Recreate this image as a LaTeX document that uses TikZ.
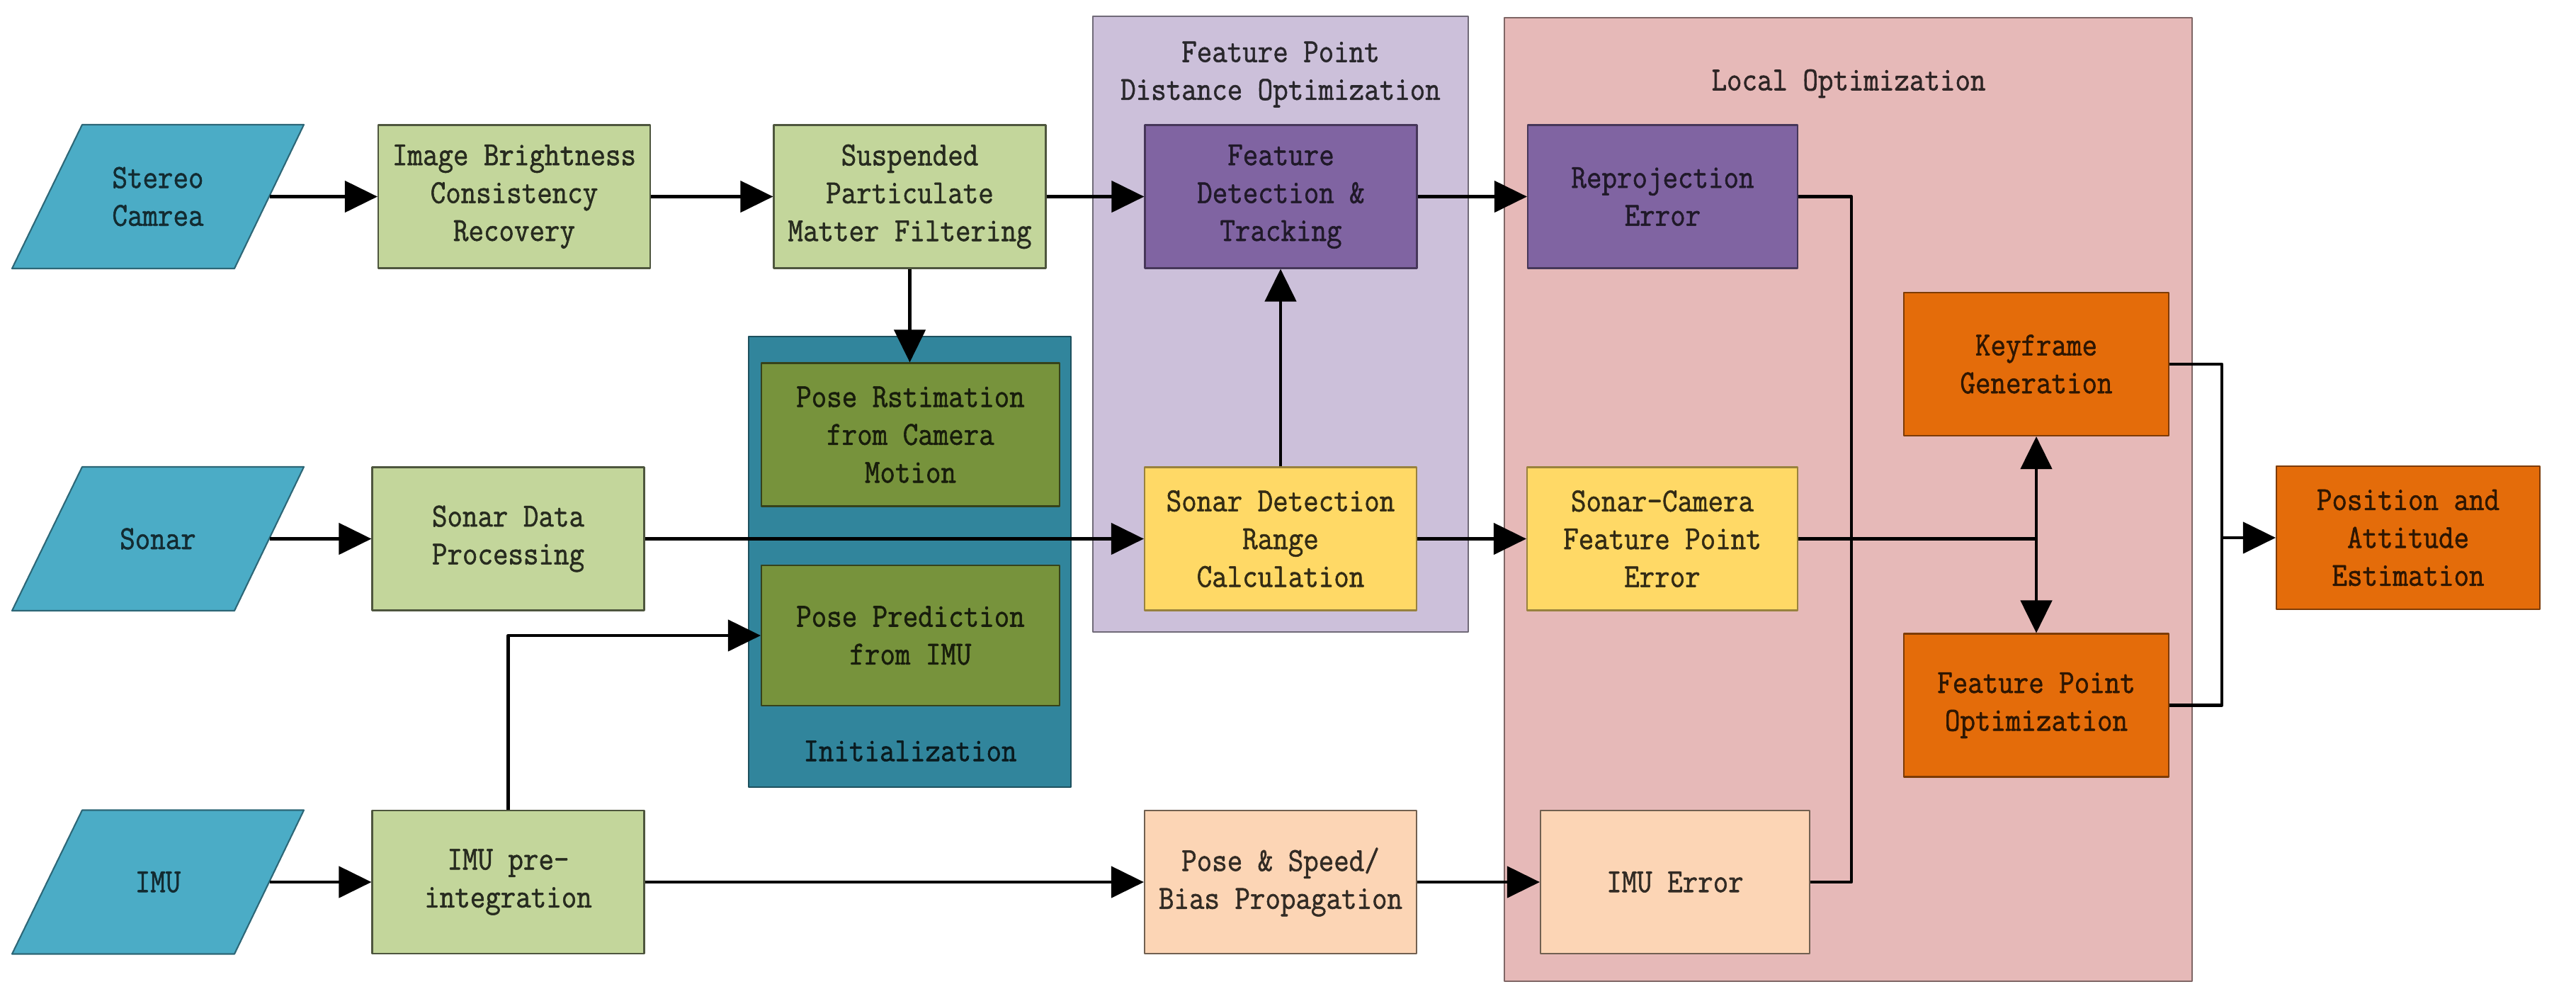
\documentclass[tikz,border=0pt]{standalone}
\usepackage{fontspec}
\setmonofont[FakeStretch=0.88, FakeBold=1.2]{Latin Modern Mono}
\usetikzlibrary{arrows.meta}
\definecolor{inblue}{HTML}{4BACC6}
\definecolor{prelight}{HTML}{C3D69B}
\definecolor{initteal}{HTML}{31859C}
\definecolor{initolive}{HTML}{77933C}
\definecolor{fplav}{HTML}{CCC0DA}
\definecolor{featpurple}{HTML}{8064A2}
\definecolor{sonyellow}{HTML}{FFD966}
\definecolor{locpink}{HTML}{E6B9B8}
\definecolor{imupeach}{HTML}{FCD5B5}
\definecolor{optorange}{HTML}{E46C0A}
\begin{document}
\begin{tikzpicture}[line join=round, font=\ttfamily\fontsize{13.5}{15.2}\selectfont,
    >={Triangle[length=0.46cm,width=0.44cm]},
    box/.style={draw, line width=0.6pt, minimum width=3.84cm, minimum height=2.02cm, align=center, inner sep=0pt},
    inshape/.style={fill=inblue, draw=inblue!60!black, line width=0.6pt},
    intext/.style={minimum width=3.14cm, minimum height=2.02cm, align=center, inner sep=0pt, text=inblue!25!black},
    prebox/.style={box, fill=prelight, draw=prelight!40!black, text=prelight!20!black},
    initbox/.style={box, fill=initolive, draw=initolive!45!black, text=initolive!20!black, minimum width=4.21cm},
    featbox/.style={box, fill=featpurple, draw=featpurple!55!black, text=featpurple!25!black},
    sonbox/.style={box, fill=sonyellow, draw=sonyellow!60!black, text=sonyellow!20!black},
    imubox/.style={box, fill=imupeach, draw=imupeach!45!black, text=imupeach!20!black},
    optbox/.style={box, fill=optorange, draw=optorange!55!black, text=optorange!20!black},
    grp/.style={draw, line width=0.6pt, inner sep=0pt},
    conn/.style={line width=1.3pt}]
    \useasboundingbox (0,0) rectangle (36.37,-14.02);
    % groups
    \node[grp, fill=initteal, draw=initteal!60!black, minimum width=4.55cm, minimum height=6.36cm] (initg) at (12.845,-7.93) {};
    \node[grp, fill=fplav, draw=fplav!55!black, minimum width=5.30cm, minimum height=8.69cm] (fpg) at (18.08,-4.575) {};
    \node[grp, fill=locpink, draw=locpink!55!black, minimum width=9.71cm, minimum height=13.60cm] (locg) at (26.095,-7.05) {};
    \node[text=initteal!20!black, align=center] (initt) at (12.85,-10.6) {Initialization};
    \node[text=fplav!20!black, align=center] (fpt) at (18.08,-1.05) {Feature Point\\Distance Optimization};
    \node[text=locpink!20!black, align=center] (lot) at (26.1,-1.18) {Local Optimization};
    % inputs
    \foreach \n/\y/\t in {cam/-2.775/{Stereo\\Camrea}, sonar/-7.605/Sonar, imu/-12.45/IMU}{
        \filldraw[inshape] (0.17,\y-1.015) -- (1.16,\y+1.015) -- (4.29,\y+1.015) -- (3.31,\y-1.015) -- cycle;
        \node[intext] (\n) at (2.23,\y) {\t};
    }
    % boxes
    \node[prebox] (ibc) at (7.26,-2.775) {Image Brightness\\Consistency\\Recovery};
    \node[prebox] (spf) at (12.845,-2.775) {Suspended\\Particulate\\Matter Filtering};
    \node[featbox] (fdt) at (18.085,-2.775) {Feature\\Detection \&\\Tracking};
    \node[featbox, minimum width=3.81cm] (rpe) at (23.475,-2.775) {Reprojection\\Error};
    \node[prebox] (sdp) at (7.175,-7.605) {Sonar Data\\Processing};
    \node[sonbox] (sdr) at (18.08,-7.605) {Sonar Detection\\Range\\Calculation};
    \node[sonbox, minimum width=3.82cm] (scf) at (23.47,-7.605) {Sonar-Camera\\Feature Point\\Error};
    \node[prebox] (ipi) at (7.175,-12.45) {IMU pre-\\integration};
    \node[imubox] (psb) at (18.08,-12.45) {Pose \& Speed/\\Bias Propagation};
    \node[imubox, minimum width=3.80cm] (ime) at (23.65,-12.45) {IMU Error};
    \node[initbox] (pce) at (12.855,-6.135) {Pose Rstimation\\from Camera\\Motion};
    \node[initbox, minimum height=1.98cm] (ppi) at (12.855,-8.97) {Pose Prediction\\from IMU};
    \node[optbox, minimum width=3.74cm] (kfg) at (28.75,-5.14) {Keyframe\\Generation};
    \node[optbox, minimum width=3.74cm] (fpo) at (28.75,-9.955) {Feature Point\\Optimization};
    \node[optbox, minimum width=3.72cm] (pae) at (34.0,-7.59) {Position and\\Attitude\\Estimation};
    % connectors
    \draw[conn, ->] (cam) -- (ibc);
    \draw[conn, ->] (ibc) -- (spf);
    \draw[conn, ->] (spf) -- (fdt);
    \draw[conn, ->] (fdt) -- (rpe);
    \draw[conn, ->] (spf.south) -- (spf.south |- pce.north);
    \draw[conn, ->] (sonar) -- (sdp);
    \draw[conn, ->] (sdp) -- (sdr);
    \draw[conn, ->] (sdr) -- (scf);
    \draw[conn, ->] (sdr.north) -- (sdr.north |- fdt.south);
    \draw[conn, ->] (imu) -- (ipi);
    \draw[conn, ->] (ipi) -- (psb);
    \draw[conn, ->] (psb) -- (ime);
    \draw[conn, ->] (ipi.north) |- (ppi.west);
    \draw[conn] (rpe.east) -- ++(0.75,0) |- (ime.east);
    \coordinate (mj) at (scf.east -| kfg.south);
    \draw[conn] (scf.east) -- (mj);
    \draw[conn, ->] (mj) -- (kfg.south);
    \draw[conn, ->] (mj) -- (fpo.north);
    \coordinate (oj) at (31.37,-7.59);
    \draw[conn] (kfg.east) -| (oj) |- (fpo.east);
    \draw[conn, ->] (oj) -- (pae);
\end{tikzpicture}
\end{document}
